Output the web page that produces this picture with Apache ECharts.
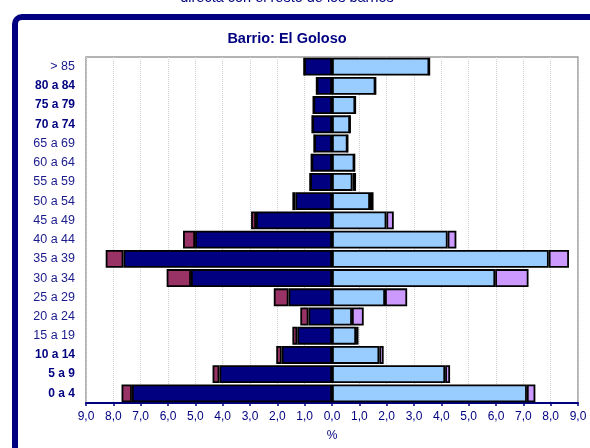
<!DOCTYPE html>
<html><head><meta charset="utf-8">
<script src="https://cdn.jsdelivr.net/npm/echarts@6/dist/echarts.min.js"></script>
<style>html,body{margin:0;padding:0;background:#fff}#c{width:590px;height:448px}</style>
</head><body><div id="c"></div>
<script>
const categories = ['0 a 4','5 a 9','10 a 14','15 a 19','20 a 24','25 a 29','30 a 34','35 a 39','40 a 44','45 a 49','50 a 54','55 a 59','60 a 64','65 a 69','70 a 74','75 a 79','80 a 84','> 85'];
const boldCats = ['0 a 4','5 a 9','10 a 14','70 a 74','75 a 79','80 a 84'];
const menNational   = [7.32, 4.12, 1.84, 1.27, 0.86, 1.59, 5.16, 7.63, 5.01, 2.78, 1.34, 0.80, 0.75, 0.65, 0.72, 0.68, 0.56, 1.02];
const menForeign    = [0.38, 0.25, 0.20, 0.18, 0.30, 0.54, 0.89, 0.65, 0.44, 0.18, 0.11, 0.00, 0.00, 0.00, 0.00, 0.00, 0.00, 0.00];
const womenNational = [7.13, 4.14, 1.73, 0.88, 0.73, 1.94, 5.97, 7.93, 4.23, 1.99, 1.39, 0.75, 0.82, 0.57, 0.66, 0.85, 1.59, 3.56];
const womenForeign  = [0.31, 0.18, 0.16, 0.09, 0.43, 0.81, 1.22, 0.74, 0.32, 0.27, 0.13, 0.13, 0.00, 0.00, 0.00, 0.00, 0.00, 0.00];
const xTicks = [-9, 9, 1];

const chart = echarts.init(document.getElementById('c'), null, {renderer:'canvas'});
const neg = a => a.map(v => -v);
const fmt = v => Math.abs(v).toFixed(1).replace('.', ',');
const navy = '#000080';
const barBase = {type:'bar', stack:'pyr', barCategoryGap:'7%', itemStyle:{borderColor:'#000', borderWidth:1.8}};
chart.setOption({
  animation:false,
  graphic:[
    {type:'rect', shape:{x:15, y:17, width:700, height:600, r:7}, style:{fill:'none', stroke:navy, lineWidth:6}},
    {type:'text', x:287, y:-2, style:{text:'directa con el resto de los barrios', font:'14.5px "Liberation Sans", Arial', fill:navy, textAlign:'center', textVerticalAlign:'middle'}},
    {type:'text', x:287, y:39, style:{text:'Barrio: El Goloso', font:'bold 14.5px "Liberation Sans", Arial', fill:navy, textAlign:'center', textVerticalAlign:'middle'}}
  ],
  grid:{left:86, right:12, top:57, bottom:45, show:true, borderColor:'#9a9a9a', borderWidth:1.5, backgroundColor:'transparent'},
  xAxis:{type:'value', min:xTicks[0], max:xTicks[1], interval:xTicks[2],
    name:'%', nameLocation:'middle', nameGap:27, nameTextStyle:{color:navy, fontSize:12, fontFamily:'"Liberation Sans", Arial'},
    axisLine:{show:true, lineStyle:{color:navy, width:2}},
    axisTick:{show:true, length:3, lineStyle:{color:navy, width:1.5}},
    axisLabel:{formatter:fmt, color:navy, fontSize:12, fontFamily:'"Liberation Sans", Arial', margin:8},
    splitLine:{show:true, lineStyle:{color:'#d0d0d0', type:'dotted', width:1}}
  },
  yAxis:{type:'category', data:categories,
    axisLine:{show:false}, axisTick:{show:false},
    axisLabel:{margin:11, fontSize:12, fontFamily:'"Liberation Sans", Arial',
      formatter: v => boldCats.includes(v) ? '{b|'+v+'}' : '{n|'+v+'}',
      rich:{b:{fontWeight:'bold', color:navy, fontSize:12, fontFamily:'"Liberation Sans", Arial'},
            n:{fontWeight:'normal', color:'#1a1a8c', fontSize:12.5, fontFamily:'"Liberation Sans", Arial'}}},
    splitLine:{show:false}
  },
  series:[
    Object.assign({}, barBase, {name:'Hombres', data:neg(menNational), itemStyle:Object.assign({}, barBase.itemStyle, {color:'#000080'})}),
    Object.assign({}, barBase, {name:'Hombres extranjeros', data:neg(menForeign), itemStyle:Object.assign({}, barBase.itemStyle, {color:'#993366'})}),
    Object.assign({}, barBase, {name:'Mujeres', data:womenNational, itemStyle:Object.assign({}, barBase.itemStyle, {color:'#99CCFF'})}),
    Object.assign({}, barBase, {name:'Mujeres extranjeras', data:womenForeign, itemStyle:Object.assign({}, barBase.itemStyle, {color:'#CC99FF'})})
  ]
});
</script></body></html>
